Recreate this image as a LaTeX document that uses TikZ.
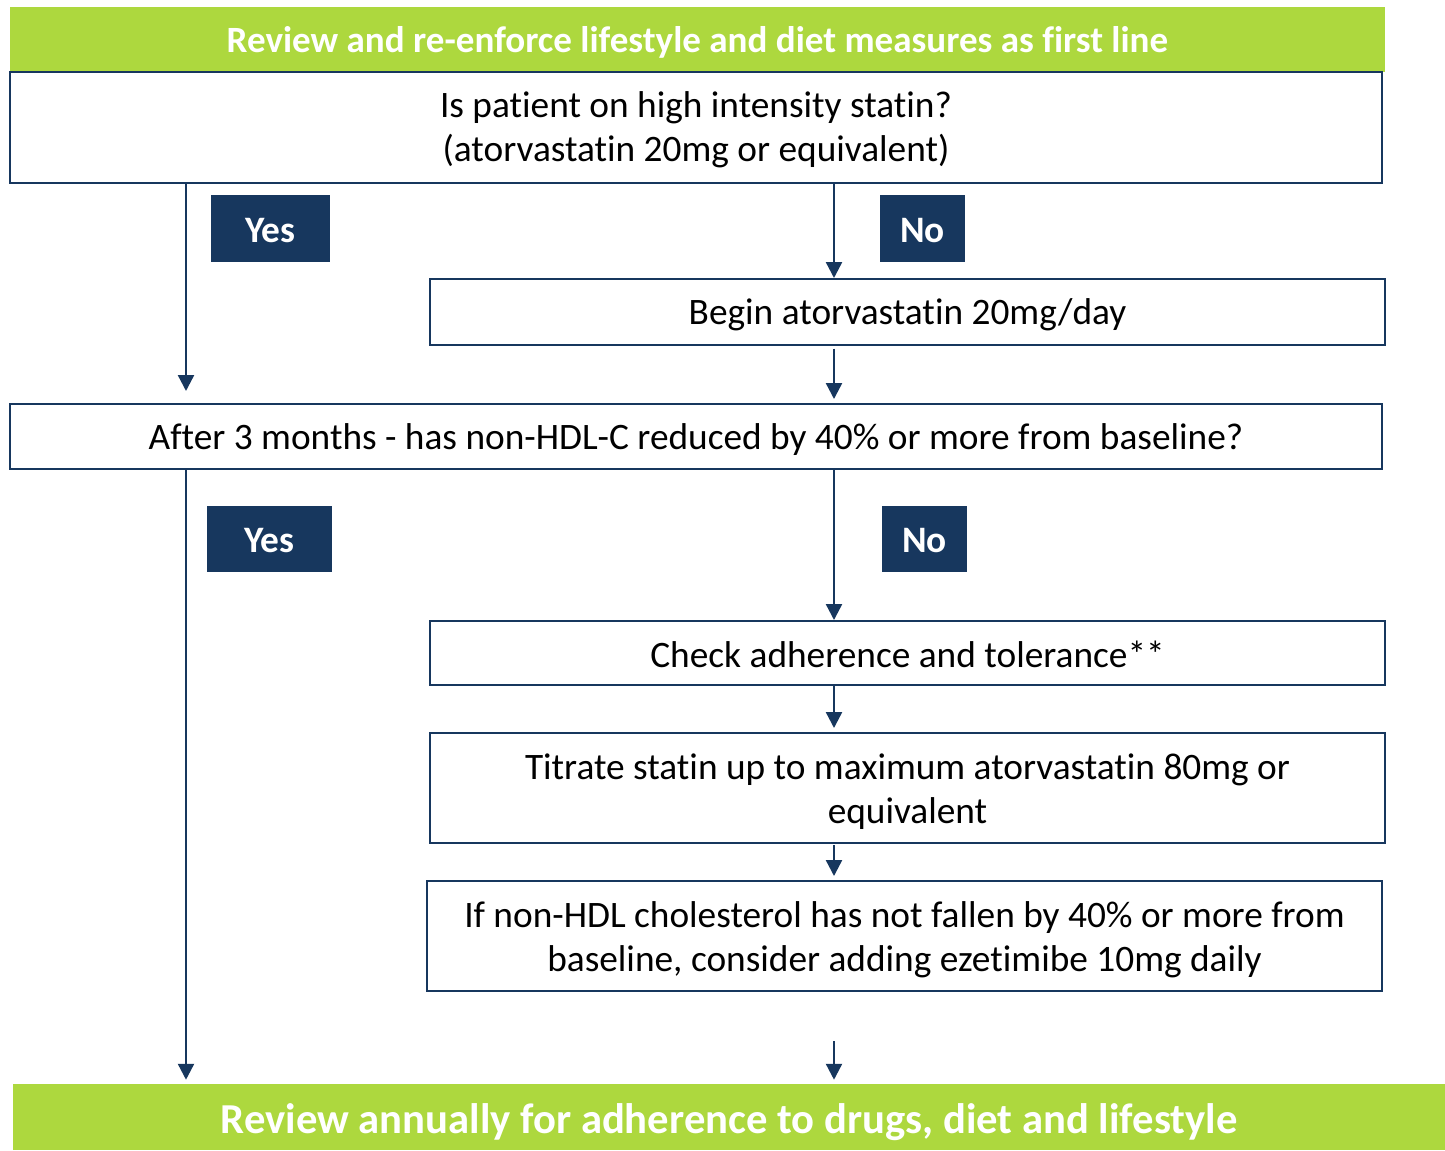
\documentclass[tikz,border=0pt]{standalone}
\usepackage{fontspec}
\setmainfont[Ligatures=NoCommon]{Carlito}
\usetikzlibrary{arrows.meta}
\definecolor{lime}{RGB}{173,216,62}
\definecolor{navy}{RGB}{23,55,94}
% name, x1, y1, x2, y2, style, text-shift (px), text
\newcommand\rbox[8]{%
  \pgfmathsetmacro\cx{(#2+#4)/2}\pgfmathsetmacro\cy{(#3+#5)/2}%
  \pgfmathsetmacro\bw{(#4-#2)*0.75}\pgfmathsetmacro\bh{(#5-#3)*0.75}%
  \pgfmathsetmacro\ty{\cy+#7}%
  \node[#6,minimum width=\bw pt,minimum height=\bh pt] (#1) at (\cx,\cy) {};
  \node[#6,draw=none,fill=none] (#1-t) at (\cx,\ty) {#8};}
\begin{document}
\begin{tikzpicture}[x=0.75pt,y=-0.75pt,
  box/.style={draw=navy,line width=1.5pt,fill=white,inner sep=0pt,align=center,
    font=\fontsize{28}{33}\selectfont},
  banner/.style={fill=lime,inner sep=0pt,text=white,align=center},
  tag/.style={fill=navy,inner sep=0pt,text=white,font=\fontsize{28}{30}\selectfont\bfseries},
  arr/.style={draw=navy,line width=1.8pt,-{Triangle[width=12pt,length=12pt]}}]
\useasboundingbox (0,0) rectangle (1445,1150);
\coordinate (cL) at (186,0);
\coordinate (cM) at (834,0);
\rbox{top}{10}{7}{1385}{72}{banner,font=\fontsize{27.8}{30}\selectfont\bfseries}{3}{Review and re-enforce lifestyle and diet measures as first line}
\rbox{q1}{10}{72}{1382}{183}{box}{2}{Is patient on high intensity statin?\\(atorvastatin 20mg or equivalent)}
\rbox{y1}{211}{195}{330}{262}{tag}{2}{Yes}
\rbox{n1}{880}{195}{965}{262}{tag}{2}{No}
\rbox{b2}{430}{279}{1385}{345}{box}{3}{Begin atorvastatin 20mg/day}
\rbox{q2}{10}{404}{1382}{469}{box}{3}{After 3 months - has non-HDL-C reduced by 40\% or more from baseline?}
\rbox{y2}{207}{506}{332}{572}{tag}{2}{Yes}
\rbox{n2}{882}{506}{967}{572}{tag}{2}{No}
\rbox{b4}{430}{621}{1385}{685}{box}{1}{Check adherence and tolerance**}
\rbox{b5}{430}{733}{1385}{843}{box}{4}{Titrate statin up to maximum atorvastatin 80mg or\\equivalent}
\rbox{b6}{427}{881}{1382}{991}{box}{4}{If non-HDL cholesterol has not fallen by 40\% or more from\\baseline, consider adding ezetimibe 10mg daily}
\rbox{bot}{13}{1084}{1445}{1150}{banner,font=\fontsize{32}{34}\selectfont\bfseries}{5}{Review annually for adherence to drugs, diet and lifestyle}
\coordinate (free) at (834,1041);
\draw[arr,shorten >=9pt] (q1.south -| cL) -- (q2.north -| cL);
\draw[arr] (q1.south -| cM) -- (b2.north -| cM);
\draw[arr,shorten <=2pt,shorten >=3pt] (b2.south -| cM) -- (q2.north -| cM);
\draw[arr,shorten >=3pt] (q2.south -| cL) -- (bot.north -| cL);
\draw[arr] (q2.south -| cM) -- (b4.north -| cM);
\draw[arr,shorten >=3pt] (b4.south -| cM) -- (b5.north -| cM);
\draw[arr,shorten <=1pt,shorten >=3pt] (b5.south -| cM) -- (b6.north -| cM);
\draw[arr,shorten >=3pt] (free) -- (bot.north -| cM);
\end{tikzpicture}
\end{document}
